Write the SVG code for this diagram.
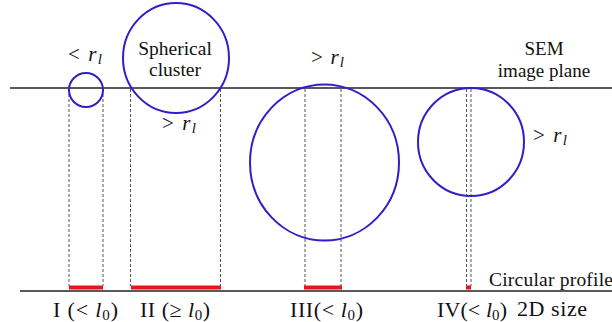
<svg xmlns="http://www.w3.org/2000/svg" width="612" height="322" viewBox="0 0 612 322">
<style>
text{font-family:'Liberation Serif','Times New Roman','DejaVu Serif',serif;fill:#111}
.m{font-size:21px}
.b{font-size:22px}
.c{fill:none;stroke:#2f1fc9;stroke-width:2}
.d{stroke:#555;stroke-width:1;stroke-dasharray:3 2;fill:none}
.p{fill:#e8151b}
.ln{stroke:#222;stroke-width:1.4}
</style>
<rect width="612" height="322" fill="#fff"/>
<g id="planes">
<line class="ln" x1="10" y1="88" x2="612" y2="88"/>
<line class="ln" x1="20" y1="291" x2="612" y2="291"/>
</g>
<g id="connectors">
<line class="d" x1="69" y1="89" x2="69" y2="286"/>
<line class="d" x1="103" y1="89" x2="103" y2="286"/>
<line class="d" x1="130.5" y1="89" x2="130.5" y2="286"/>
<line class="d" x1="220.5" y1="89" x2="220.5" y2="286"/>
<line class="d" x1="305" y1="89" x2="305" y2="286"/>
<line class="d" x1="341" y1="89" x2="341" y2="286"/>
<line class="d" x1="466.5" y1="89" x2="466.5" y2="286"/>
<line class="d" x1="471" y1="89" x2="471" y2="286"/>
</g>
<g id="cluster-I">
<circle class="c" cx="86" cy="90" r="17"/>
<text class="m" x="68" y="61" textLength="34" lengthAdjust="spacing">&lt; <tspan font-style="italic">r</tspan><tspan font-style="italic" font-size="15" dy="3">l</tspan></text>
<rect class="p" x="69" y="285.5" width="34" height="4"/>
<text class="b" x="53" y="317" textLength="65" lengthAdjust="spacing">I (&lt; <tspan font-style="italic">l</tspan><tspan font-size="15" dy="3">0</tspan><tspan dy="-3">)</tspan></text>
</g>
<g id="cluster-II">
<ellipse class="c" cx="176" cy="58" rx="53" ry="55"/>
<text font-size="19.5" text-anchor="middle" x="175" y="55">Spherical</text>
<text font-size="19.5" text-anchor="middle" x="175" y="76">cluster</text>
<text class="m" x="162" y="130" textLength="34" lengthAdjust="spacing">&gt; <tspan font-style="italic">r</tspan><tspan font-style="italic" font-size="15" dy="3">l</tspan></text>
<rect class="p" x="131" y="285.5" width="90" height="4"/>
<text class="b" x="140" y="317" textLength="70" lengthAdjust="spacing">II (≥ <tspan font-style="italic">l</tspan><tspan font-size="15" dy="3">0</tspan><tspan dy="-3">)</tspan></text>
</g>
<g id="cluster-III">
<ellipse class="c" cx="324.5" cy="162.5" rx="74.5" ry="78"/>
<text class="m" x="311" y="64" textLength="33" lengthAdjust="spacing">&gt; <tspan font-style="italic">r</tspan><tspan font-style="italic" font-size="15" dy="3">l</tspan></text>
<rect class="p" x="304" y="285.5" width="38" height="4"/>
<text class="b" x="290" y="317" textLength="73" lengthAdjust="spacing">III(&lt; <tspan font-style="italic">l</tspan><tspan font-size="15" dy="3">0</tspan><tspan dy="-3">)</tspan></text>
</g>
<g id="cluster-IV">
<ellipse class="c" cx="471" cy="142" rx="53" ry="54"/>
<text class="m" x="533" y="142" textLength="34" lengthAdjust="spacing">&gt; <tspan font-style="italic">r</tspan><tspan font-style="italic" font-size="15" dy="3">l</tspan></text>
<rect class="p" x="466" y="285.5" width="5" height="4"/>
<text class="b" x="437" y="317" textLength="70" lengthAdjust="spacing">IV(&lt; <tspan font-style="italic">l</tspan><tspan font-size="15" dy="3">0</tspan><tspan dy="-3">)</tspan></text>
</g>
<g id="labels">
<text font-size="19" text-anchor="middle" x="544" y="55">SEM</text>
<text font-size="19" text-anchor="middle" x="544" y="77">image plane</text>
<text font-size="19.5" x="489" y="286" textLength="124" lengthAdjust="spacing">Circular profile</text>
<text class="b" x="517" y="316" textLength="70" lengthAdjust="spacing">2D size</text>
</g>
</svg>
